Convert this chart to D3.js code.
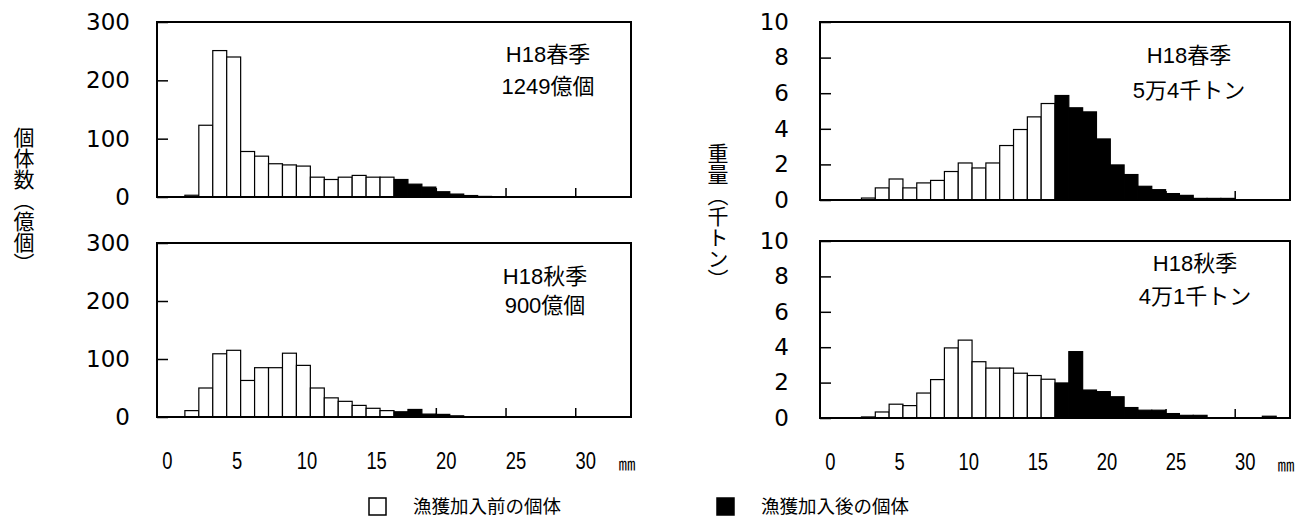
<!DOCTYPE html>
<html>
<head>
<meta charset="utf-8">
<script src="https://cdn.jsdelivr.net/npm/d3@7"></script>
<style>
  body { margin: 0; background: #fff; }
  svg { display: block; }
  text { fill: #000; }
</style>
</head>
<body>
<div id="chart"></div>
<script>
//体長組成 (1mm bins, 0..33mm)
const bins = d3.range(0, 34);
const recruitBin = 17; // from 17mm: 漁獲加入後

const countSpring = [0, 0, 3, 123, 251, 240, 78, 70, 57, 55, 53, 34, 30, 34, 37, 34, 34,
  30, 22, 17, 9, 5, 2.5, 1, 0, 0, 0, 0, 0, 0, 0, 0, 0, 0];
const countAutumn = [0, 0, 11, 50, 109, 115, 63, 85, 85, 110, 89, 50, 33, 27, 20, 15, 11,
  9, 13, 5, 4.5, 2, 0.5, 0, 0, 0, 0, 0, 0, 0, 0, 0, 0, 0];
const weightSpring = [0, 0, 0, 0.11, 0.68, 1.18, 0.68, 0.96, 1.1, 1.6, 2.08, 1.8, 2.08, 3.06, 3.96, 4.67, 5.42,
  5.87, 5.18, 4.95, 3.43, 1.97, 1.43, 0.77, 0.58, 0.36, 0.26, 0.09, 0.09, 0.09, 0, 0, 0, 0];
const weightAutumn = [0, 0, 0, 0.06, 0.34, 0.78, 0.7, 1.41, 2.17, 3.96, 4.4, 3.18, 2.82, 2.82, 2.53, 2.4, 2.19,
  1.98, 3.75, 1.58, 1.49, 1.2, 0.59, 0.44, 0.44, 0.25, 0.15, 0.15, 0, 0, 0, 0, 0.1, 0];

const countTicks = [0, 100, 200, 300];
const weightTicks = [0, 2, 4, 6, 8, 10];
const xTicks = [0, 5, 10, 15, 20, 25, 30];

const labels = {
  countSpring: ['H18春季', '1249億個'],
  countAutumn: ['H18秋季', '900億個'],
  weightSpring: ['H18春季', '5万4千トン'],
  weightAutumn: ['H18秋季', '4万1千トン']
};
const legendLabels = ['漁獲加入前の個体', '漁獲加入後の個体'];

const width = 1301;
const height = 521;
const numFont = '"DejaVu Sans", sans-serif';
const latinFont = '"Liberation Sans", "Noto Sans CJK JP", sans-serif';
const jpFont = '"Noto Sans CJK JP", sans-serif';

const svg = d3.select('#chart')
  .append('svg')
  .attr('width', width)
  .attr('height', height);

const panels = [
  { data: countSpring, ticks: countTicks, max: 300, note: labels.countSpring,
    x0: 157, x1: 631, y0: 22, y1: 197, labelPad: 27, noteX: 548, noteY: [54, 86] },
  { data: countAutumn, ticks: countTicks, max: 300, note: labels.countAutumn,
    x0: 157, x1: 631, y0: 243, y1: 417, labelPad: 27, noteX: 545, noteY: [276, 305], xAxis: true },
  { data: weightSpring, ticks: weightTicks, max: 10, note: labels.weightSpring,
    x0: 820, x1: 1290, y0: 22, y1: 200, labelPad: 31, noteX: 1189, noteY: [55, 90] },
  { data: weightAutumn, ticks: weightTicks, max: 10, note: labels.weightAutumn,
    x0: 820, x1: 1290, y0: 241, y1: 418, labelPad: 31, noteX: 1195, noteY: [263, 296], xAxis: true }
];

panels.forEach(p => {
  const x = d3.scaleLinear().domain([0, 34]).range([p.x0, p.x1]);
  const y = d3.scaleLinear().domain([0, p.max]).range([p.y1, p.y0]);
  const g = svg.append('g');

  // inner ticks on the bottom edge
  g.append('g')
    .attr('transform', `translate(0,${p.y1})`)
    .call(d3.axisBottom(x).tickValues(xTicks.filter(t => t > 0)).tickSizeInner(-9).tickSizeOuter(0).tickFormat(''))
    .call(a => a.select('.domain').remove())
    .call(a => a.selectAll('line').attr('stroke', '#000').attr('stroke-width', 1.5));

  // bars
  g.selectAll('rect.bar')
    .data(bins.filter(b => p.data[b] > 0))
    .enter()
    .append('rect')
    .attr('class', 'bar')
    .attr('x', b => x(b))
    .attr('y', b => y(p.data[b]))
    .attr('width', b => x(b + 1) - x(b))
    .attr('height', b => y(0) - y(p.data[b]))
    .attr('fill', b => b >= recruitBin ? '#000' : '#fff')
    .attr('stroke', '#000')
    .attr('stroke-width', 1.2);

  // y axis, ticks pointing inward
  g.append('g')
    .attr('transform', `translate(${p.x0},0)`)
    .call(d3.axisLeft(y).tickValues(p.ticks).tickSizeInner(-11).tickSizeOuter(0).tickPadding(p.labelPad))
    .call(a => a.select('.domain').remove())
    .call(a => a.selectAll('line').attr('stroke', '#000').attr('stroke-width', 1.5))
    .call(a => a.selectAll('text')
      .attr('font-family', numFont)
      .attr('font-size', 23)
      .attr('fill', '#000'));

  if (p.xAxis) {
    // condensed tick labels, shifted right of the ticks like the original
    const ax = g.append('g')
      .attr('transform', `translate(0,${p.y1})`)
      .call(d3.axisBottom(x).tickValues(xTicks).tickSize(0).tickPadding(36))
      .call(a => a.select('.domain').remove())
      .call(a => a.selectAll('text')
        .attr('transform', 'scale(0.8,1)')
        .attr('dx', 12.5)
        .attr('font-family', latinFont)
        .attr('font-size', 23)
        .attr('fill', '#000'));
    ax.append('text')
      .attr('x', x(34) - 4)
      .attr('y', 53)
      .attr('text-anchor', 'middle')
      .attr('font-family', jpFont)
      .attr('font-size', 17)
      .text('㎜');
  }

  // frame
  g.append('rect')
    .attr('x', p.x0)
    .attr('y', p.y0)
    .attr('width', p.x1 - p.x0)
    .attr('height', p.y1 - p.y0)
    .attr('fill', 'none')
    .attr('stroke', '#000')
    .attr('stroke-width', 2);

  // panel note
  p.note.forEach((t, i) => {
    g.append('text')
      .attr('x', p.noteX)
      .attr('y', p.noteY[i])
      .attr('dy', '0.35em')
      .attr('text-anchor', 'middle')
      .attr('font-family', latinFont)
      .attr('font-size', 22)
      .text(t);
  });
});

// y axis titles (vertical)
const titles = [
  { text: '個体数（億個）', x: 24, y: 127 },
  { text: '重量（千トン）', x: 718, y: 143 }
];
titles.forEach(t => {
  svg.append('text')
    .attr('x', t.x)
    .attr('y', t.y)
    .attr('font-family', jpFont)
    .attr('font-size', 21)
    .style('writing-mode', 'vertical-rl')
    .text(t.text);
});

// legend
const legend = svg.append('g');
const legendX = [369, 717];
legendLabels.forEach((t, i) => {
  legend.append('rect')
    .attr('x', legendX[i])
    .attr('y', 498)
    .attr('width', 17)
    .attr('height', 17)
    .attr('fill', i === 0 ? '#fff' : '#000')
    .attr('stroke', '#000')
    .attr('stroke-width', 1.5);
  legend.append('text')
    .attr('x', legendX[i] + 44)
    .attr('y', 507)
    .attr('dy', '0.35em')
    .attr('font-family', jpFont)
    .attr('font-size', 18.5)
    .text(t);
});
</script>
</body>
</html>
